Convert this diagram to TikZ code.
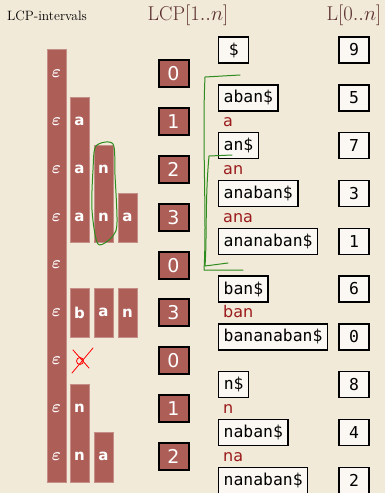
\documentclass[tikz,border=0pt]{standalone}
\usepackage{fontspec}
\usepackage{amsmath,amssymb}
\usepackage{tikz}
\usetikzlibrary{positioning}
\usepackage{xcolor}
\newfontfamily\dvsans{DejaVu Sans}
\newfontfamily\dvmono{DejaVu Sans Mono}
\definecolor{paper}{HTML}{F2EAD9}
\definecolor{brick}{HTML}{AD5E57}
\definecolor{lcpred}{HTML}{9A1A1A}
\definecolor{headbrown}{HTML}{5A2E2E}
\definecolor{boxwhite}{HTML}{FBF8F3}
\definecolor{pen}{HTML}{2E8B1E}
\newcommand{\fs}[1]{\fontsize{#1}{#1}\selectfont}

\begin{document}
\begin{tikzpicture}[x=1pt,y=-1pt,
  suf/.style={draw,line width=1.4pt,fill=boxwhite,anchor=west,inner xsep=5pt,inner ysep=0pt,minimum width=30pt,minimum height=26pt,font=\dvmono\fs{16.4}},
  lval/.style={draw,line width=1.4pt,fill=boxwhite,inner sep=0pt,minimum width=30pt,minimum height=26pt,font=\dvmono\fs{16.4}},
  lcpbox/.style={draw,line width=2pt,fill=brick,text=white,inner sep=0pt,minimum width=30pt,minimum height=27pt,font=\dvsans\fs{19}},
  pref/.style={anchor=base west,inner sep=0pt,text=lcpred,font=\dvsans\fs{16}},
  bar/.style={fill=brick,draw=brick!70!white,line width=0.5pt},
  letter/.style={text=white,inner sep=0pt,font=\dvsans\bfseries\fs{15}},
  eps/.style={text=white,inner sep=0pt,font=\fs{19}},
  head/.style={text=headbrown,font=\fs{20}},
  scribble/.style={draw=pen,line width=1pt,line cap=round,line join=round}
]
\useasboundingbox[fill=paper] (0,0) rectangle (385,493);

\node[font=\fs{13.5}] (title) at (47,16) {LCP-intervals};
\node[head] (lcphead) at (188,15) {LCP$[1..n]$};
\node[head] (lhead) at (354,15) {L$[0..n]$};

% interval bars
\fill[bar] (47,49) rectangle (66,482);
\fill[bar] (70,97) rectangle (89,242);
\fill[bar] (70,288) rectangle (89,337);
\fill[bar] (70,384) rectangle (89,482);
\fill[bar] (94,145) rectangle (113,242);
\fill[bar] (94,288) rectangle (113,337);
\fill[bar] (94,432) rectangle (113,482);
\fill[bar] (118,193) rectangle (137,242);
\fill[bar] (118,288) rectangle (137,337);

\node[eps] (e0) at (56.5,73.9) {$\boldsymbol{\varepsilon}$};
\node[eps] (e1) at (56.5,121.7) {$\boldsymbol{\varepsilon}$};
\node[eps] (e2) at (56.5,169.5) {$\boldsymbol{\varepsilon}$};
\node[eps] (e3) at (56.5,217.3) {$\boldsymbol{\varepsilon}$};
\node[eps] (e4) at (56.5,265.1) {$\boldsymbol{\varepsilon}$};
\node[eps] (e5) at (56.5,312.9) {$\boldsymbol{\varepsilon}$};
\node[eps] (e6) at (56.5,360.7) {$\boldsymbol{\varepsilon}$};
\node[eps] (e7) at (56.5,408.5) {$\boldsymbol{\varepsilon}$};
\node[eps] (e8) at (56.5,456.3) {$\boldsymbol{\varepsilon}$};

\node[letter] (a1) at (79.5,121.7) {a};
\node[letter] (a2) at (79.5,169.5) {a};
\node[letter] (a3) at (79.5,217.3) {a};
\node[letter] (b5) at (79.5,312.9) {b};
\node[letter] (n7) at (79.5,408.5) {n};
\node[letter] (n8) at (79.5,456.3) {n};
\node[letter] (an2) at (103.5,169.5) {n};
\node[letter] (an3) at (103.5,217.3) {n};
\node[letter] (ba5) at (103.5,312.9) {a};
\node[letter] (na8) at (103.5,456.3) {a};
\node[letter] (ana3) at (127.5,217.3) {a};
\node[letter] (ban5) at (127.5,312.9) {n};

% LCP values
\node[lcpbox] (lcp1) at (173.5,73.9) {0};
\node[lcpbox] (lcp2) at (173.5,121.7) {1};
\node[lcpbox] (lcp3) at (173.5,169.5) {2};
\node[lcpbox] (lcp4) at (173.5,217.3) {3};
\node[lcpbox] (lcp5) at (173.5,265.1) {0};
\node[lcpbox] (lcp6) at (173.5,312.9) {3};
\node[lcpbox] (lcp7) at (173.5,360.7) {0};
\node[lcpbox] (lcp8) at (173.5,408.5) {1};
\node[lcpbox] (lcp9) at (173.5,456.3) {2};

% sorted suffixes
\node[suf] (s0) at (218,50) {\$};
\node[suf] (s1) at (218,97.8) {aban\$};
\node[suf] (s2) at (218,145.6) {an\$};
\node[suf] (s3) at (218,193.4) {anaban\$};
\node[suf] (s4) at (218,241.2) {ananaban\$};
\node[suf] (s5) at (218,289) {ban\$};
\node[suf] (s6) at (218,336.8) {bananaban\$};
\node[suf] (s7) at (218,384.6) {n\$};
\node[suf] (s8) at (218,432.4) {naban\$};
\node[suf] (s9) at (218,480.2) {nanaban\$};

\node[lval] (l0) at (354,50) {9};
\node[lval] (l1) at (354,97.8) {5};
\node[lval] (l2) at (354,145.6) {7};
\node[lval] (l3) at (354,193.4) {3};
\node[lval] (l4) at (354,241.2) {1};
\node[lval] (l5) at (354,289) {6};
\node[lval] (l6) at (354,336.8) {0};
\node[lval] (l7) at (354,384.6) {8};
\node[lval] (l8) at (354,432.4) {4};
\node[lval] (l9) at (354,480.2) {2};

\node[pref] (p2) at (223,126.5) {a};
\node[pref] (p3) at (223,174.3) {an};
\node[pref] (p4) at (223,222.1) {ana};
\node[pref] (p6) at (223,317.7) {ban};
\node[pref] (p8) at (223,413.3) {n};
\node[pref] (p9) at (223,461.1) {na};

% hand annotations
\draw[scribble] (240,75) -- (205,77) .. controls (202,140) and (207,220) .. (204,270) -- (243,270);
\draw[scribble] (232,155) -- (209,156) .. controls (205,200) and (207,240) .. (205,266) -- (228,263);
\draw[scribble] plot[smooth cycle] coordinates {(96,146) (113,144) (115,175) (117,222) (113,236) (98,244) (92,210) (93,170)};
\draw[red,line width=0.8pt,line cap=round] (72,373) -- (93,348);
\draw[red,line width=0.8pt,line cap=round] (73,350) -- (89,368);
\draw[red,line width=0.8pt] (80,361) circle (3.5);
\end{tikzpicture}
\end{document}
